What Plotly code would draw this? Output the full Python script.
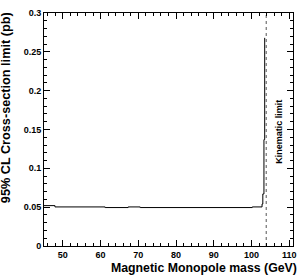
import plotly.graph_objects as go

# Data
mass = [45.0, 47.9, 61.2, 67.3, 70.5, 100.2, 102.8, 103.0, 103.3, 103.5]
limit = [0.052, 0.0503, 0.0495, 0.0503, 0.0495, 0.0503, 0.054, 0.067, 0.137, 0.268]
kinematic_limit = 103.9
x_ticks = [50, 60, 70, 80, 90, 100, 110]
y_ticks = [0, 0.05, 0.1, 0.15, 0.2, 0.25, 0.3]
y_tick_text = ["0", "0.05", "0.1", "0.15", "0.2", "0.25", "0.3"]

FONT = "Liberation Sans"

fig = go.Figure()
fig.add_trace(go.Scatter(x=mass, y=limit, mode="lines", line=dict(color="black", width=1, shape="hv"),
                         showlegend=False, hoverinfo="skip"))
fig.add_trace(go.Scatter(x=[kinematic_limit, kinematic_limit], y=[0, 0.3], mode="lines",
                         line=dict(color="#555555", width=1, dash="dot"), showlegend=False, hoverinfo="skip"))

axis_common = dict(
    showline=True, linecolor="black", linewidth=1, mirror="allticks",
    ticks="inside", ticklen=6, tickcolor="black", tickwidth=1,
    showgrid=False, zeroline=False,
    tickfont=dict(family=FONT, size=9, color="black", weight="bold"),
)

fig.update_layout(
    width=305, height=277,
    margin=dict(l=44, r=12, t=8, b=31),
    paper_bgcolor="white", plot_bgcolor="white",
    xaxis=dict(range=[45, 111], tickvals=x_ticks,
               minor=dict(ticks="inside", ticklen=3, dtick=2, tickcolor="black", showgrid=False),
               **axis_common),
    yaxis=dict(range=[0, 0.3], tickvals=y_ticks, ticktext=y_tick_text,
               minor=dict(ticks="inside", ticklen=3, dtick=0.01, tickcolor="black", showgrid=False),
               **axis_common),
    annotations=[
        dict(text="Magnetic Monopole mass (GeV)", xref="paper", yref="paper", x=1.025, y=0,
             xanchor="right", yanchor="top", yshift=-13, showarrow=False,
             font=dict(family=FONT, size=12.3, color="black", weight="bold")),
        dict(text="95% CL Cross-section limit (pb)", xref="paper", yref="paper", x=0, y=1.01,
             xanchor="right", yanchor="top", xshift=-29, textangle=-90, showarrow=False,
             font=dict(family=FONT, size=12.7, color="black", weight="bold")),
        dict(text="Kinematic limit", xref="x", yref="y", x=107.3, y=0.147,
             xanchor="center", yanchor="middle", textangle=-90, showarrow=False,
             font=dict(family=FONT, size=9, color="black", weight="bold")),
    ],
)

fig.write_html("out.html", config={"displayModeBar": False},
               post_script="document.body.style.margin='0';")
